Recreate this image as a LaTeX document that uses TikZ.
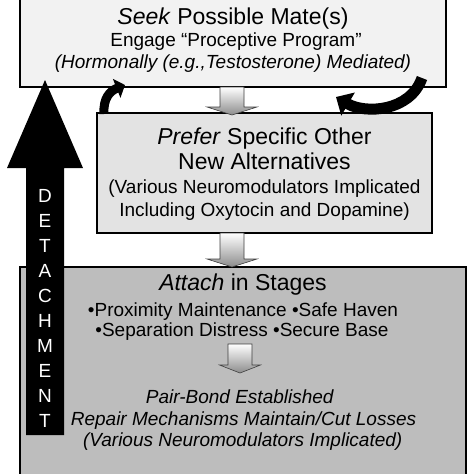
\documentclass[tikz,border=0pt]{standalone}
\usepackage{fontspec}
\setmainfont{Liberation Sans}
\usetikzlibrary{arrows.meta}

\newcommand\flowarrow[4]{%
  \path[flowarrow] (#1-12,#2) -- (#1+12,#2) -- (#1+12,#3-8) -- (#1+#4,#3-8)
    -- (#1,#3) -- (#1-#4,#3-8) -- (#1-12,#3-8) -- cycle;}

\begin{document}
\begin{tikzpicture}[x=1pt,y=-1pt,
    box/.style={draw,line width=1.4pt,inner sep=0pt},
    title/.style={anchor=base,font=\fontsize{23}{28}\selectfont},
    body/.style={anchor=base,font=\fontsize{19}{24}\selectfont},
    letter/.style={anchor=base,text=white,font=\fontsize{19}{24}\selectfont},
    flowarrow/.style={draw=black!75,line width=0.6pt,top color=white,bottom color=black!45},
    loop/.style={line width=9pt,-{Triangle[length=9pt,width=20pt]}}]
  \useasboundingbox (0,0) rectangle (474,474);
  \draw
    (233,41) node[box,fill=black!5,minimum width=426pt,minimum height=92pt] (seek){}
    (264.5,173) node[box,fill=black!11,minimum width=335pt,minimum height=120pt] (prefer){}
    (243,378.5) node[box,fill=black!26,minimum width=446pt,minimum height=223pt] (attach){};
  \flowarrow{232}{87}{115}{25}
  \flowarrow{232}{233}{267}{25}
  \flowarrow{240}{344}{373}{20.5}
  \fill (26,435) -- (26,168) -- (7,168) -- (45,80) -- (83,168) -- (64,168) -- (64,435) -- cycle;
  \foreach \ch [count=\i] in {D,E,T,A,C,H,M,E,N,T}
    \node[letter] (det\i) at (45,177+25*\i) {\ch};
  \coordinate (backtail) at (104,114);
  \coordinate (backtip) at (125,85);
  \coordinate (looptail) at (422,78);
  \coordinate (looptip) at (336,97);
  \draw[loop] (backtail) .. controls (103,98) and (110,91) .. (backtip);
  \draw[loop,line width=11pt,-{Triangle[length=14pt,width=26pt]}]
    (looptail) .. controls (410,112) and (365,114) .. (looptip);
  \draw
    (233,24) node[title] (seek1){\textit{Seek} Possible Mate(s)}
    (236,46) node[body] (seek2){Engage “Proceptive Program”}
    (233,68) node[body] (seek3){\textit{(Hormonally (e.g.,Testosterone) Mediated)}}
    (264.5,144) node[title] (prefer1){\textit{Prefer} Specific Other}
    (264.5,169.3) node[title] (prefer2){New Alternatives}
    (264.5,193.3) node[body] (prefer3){(Various Neuromodulators Implicated}
    (264.5,216.7) node[body] (prefer4){Including Oxytocin and Dopamine)}
    (243,290) node[title] (attach1){\textit{Attach} in Stages}
    (243,316) node[body] (attach2){•Proximity Maintenance •Safe Haven}
    (242,336.7) node[body] (attach3){•Separation Distress •Secure Base}
    (240,403) node[body] (bond1){\textit{Pair-Bond Established}}
    (243.5,425) node[body] (bond2){\textit{Repair Mechanisms Maintain/Cut Losses}}
    (242.7,446.7) node[body] (bond3){\textit{(Various Neuromodulators Implicated)}};
\end{tikzpicture}
\end{document}
